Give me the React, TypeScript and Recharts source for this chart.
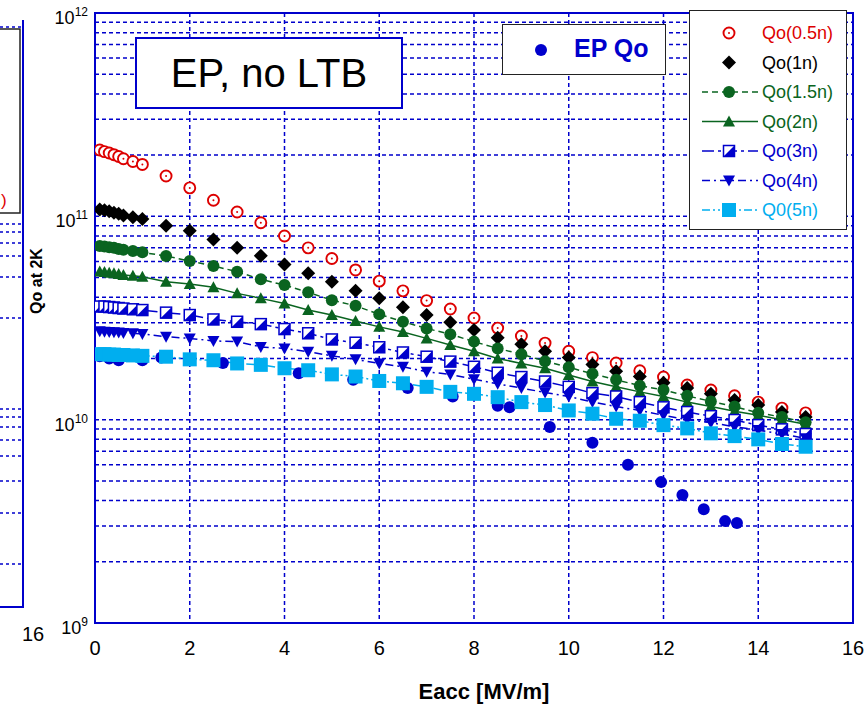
import React from 'react';
import {
  ComposedChart,
  Line,
  XAxis,
  YAxis,
  CartesianGrid,
  ReferenceArea,
} from 'recharts';

// Eacc [MV/m] shared by the seven Qo(n) curves
const EACC = [
  0.1, 0.2, 0.3, 0.4, 0.5, 0.6, 0.8, 1.0,
  1.5, 2, 2.5, 3, 3.5, 4, 4.5, 5, 5.5, 6, 6.5, 7, 7.5, 8, 8.5, 9, 9.5, 10,
  10.5, 11, 11.5, 12, 12.5, 13, 13.5, 14, 14.5, 15,
];

const QO_05N = [
  2.12e11, 2.08e11, 2.05e11, 2.01e11, 1.97e11, 1.92e11, 1.86e11, 1.8e11,
  1.58e11, 1.38e11, 1.2e11, 1.05e11, 9.3e10, 8.0e10, 7.0e10, 6.2e10, 5.45e10, 4.8e10,
  4.3e10, 3.85e10, 3.5e10, 3.16e10, 2.82e10, 2.58e10, 2.38e10, 2.17e10, 2.02e10, 1.9e10,
  1.74e10, 1.62e10, 1.48e10, 1.4e10, 1.31e10, 1.22e10, 1.14e10, 1.08e10,
];
const QO_1N = [
  1.08e11, 1.07e11, 1.06e11, 1.04e11, 1.03e11, 1.01e11, 9.9e10, 9.7e10,
  9.0e10, 8.5e10, 7.7e10, 7.0e10, 6.4e10, 5.8e10, 5.25e10, 4.77e10, 4.3e10, 3.95e10,
  3.57e10, 3.27e10, 3.01e10, 2.76e10, 2.53e10, 2.35e10, 2.17e10, 2.02e10, 1.87e10, 1.73e10,
  1.63e10, 1.52e10, 1.43e10, 1.34e10, 1.25e10, 1.18e10, 1.09e10, 1.03e10,
];
const QO_15N = [
  7.15e10, 7.1e10, 7.05e10, 7.0e10, 6.9e10, 6.85e10, 6.75e10, 6.65e10,
  6.38e10, 6.03e10, 5.7e10, 5.34e10, 4.9e10, 4.59e10, 4.23e10, 3.87e10, 3.63e10, 3.3e10,
  3.03e10, 2.81e10, 2.63e10, 2.42e10, 2.24e10, 2.1e10, 1.94e10, 1.81e10, 1.68e10, 1.57e10,
  1.47e10, 1.4e10, 1.31e10, 1.23e10, 1.16e10, 1.08e10, 1.03e10, 9.7e9,
];
const QO_2N = [
  5.35e10, 5.32e10, 5.28e10, 5.25e10, 5.2e10, 5.15e10, 5.1e10, 5.04e10,
  4.77e10, 4.65e10, 4.48e10, 4.18e10, 3.95e10, 3.73e10, 3.46e10, 3.27e10, 3.06e10, 2.86e10,
  2.7e10, 2.51e10, 2.33e10, 2.17e10, 2.0e10, 1.89e10, 1.79e10, 1.66e10, 1.54e10, 1.45e10,
  1.37e10, 1.3e10, 1.22e10, 1.16e10, 1.1e10, 1.05e10, 1.0e10, 9.5e9,
];
const QO_3N = [
  3.6e10, 3.6e10, 3.58e10, 3.56e10, 3.54e10, 3.52e10, 3.49e10, 3.46e10,
  3.36e10, 3.27e10, 3.11e10, 3.03e10, 2.95e10, 2.79e10, 2.66e10, 2.48e10, 2.39e10, 2.27e10,
  2.14e10, 2.04e10, 1.93e10, 1.82e10, 1.7e10, 1.62e10, 1.54e10, 1.45e10, 1.35e10, 1.3e10,
  1.22e10, 1.15e10, 1.09e10, 1.04e10, 9.96e9, 9.4e9, 8.96e9, 8.5e9,
];
const QO_4N = [
  2.72e10, 2.71e10, 2.7e10, 2.69e10, 2.68e10, 2.67e10, 2.66e10, 2.64e10,
  2.56e10, 2.51e10, 2.44e10, 2.42e10, 2.28e10, 2.24e10, 2.16e10, 2.06e10, 1.98e10, 1.89e10,
  1.82e10, 1.72e10, 1.67e10, 1.58e10, 1.5e10, 1.43e10, 1.36e10, 1.3e10, 1.22e10, 1.16e10,
  1.11e10, 1.05e10, 1.0e10, 9.66e9, 9.23e9, 8.89e9, 8.5e9, 8.1e9,
];
const QO_5N = [
  2.1e10, 2.1e10, 2.09e10, 2.09e10, 2.08e10, 2.08e10, 2.07e10, 2.06e10,
  2.04e10, 1.98e10, 1.96e10, 1.89e10, 1.86e10, 1.79e10, 1.75e10, 1.67e10, 1.63e10, 1.55e10,
  1.51e10, 1.45e10, 1.37e10, 1.34e10, 1.29e10, 1.22e10, 1.18e10, 1.11e10, 1.07e10, 1.01e10,
  9.88e9, 9.4e9, 9.06e9, 8.57e9, 8.3e9, 8.0e9, 7.59e9, 7.36e9,
];

// measured EP Qo (blue dots)
const EP_EACC = [
  0.1, 0.3, 0.5, 1.0, 1.4, 2.7, 4.3, 5.45, 6.6, 7.55,
  8.5, 8.75, 9.6, 10.5, 11.25, 11.95, 12.4, 12.85, 13.3, 13.55,
];
const EP_QO = [
  2.05e10, 2.0e10, 1.96e10, 1.96e10, 2.02e10, 1.9e10, 1.69e10, 1.57e10, 1.43e10, 1.3e10,
  1.17e10, 1.15e10, 9.2e9, 7.7e9, 6.0e9, 4.93e9, 4.26e9, 3.63e9, 3.17e9, 3.1e9,
];

const X_TICKS = [0, 2, 4, 6, 8, 10, 12, 14, 16];
const DECADES = [9, 10, 11];
const MANTISSAS = [1, 2, 3, 4, 5, 6, 7, 8, 9];

const Y_TICKS = [
  ...DECADES.flatMap((d) => MANTISSAS.map((m) => m * Math.pow(10, d))),
  1e12,
];

const BLUE = '#0000cc';
const GREEN = '#0a6420';
const FONT = '"Liberation Sans", Arial, sans-serif';

type Shape = 'sun' | 'diamond' | 'dot' | 'tri' | 'halfsq' | 'down' | 'square';

interface SeriesDef {
  name: string;
  values: number[];
  color: string;
  shape: Shape;
  line: boolean;
  dash?: string;
}

const SERIES: SeriesDef[] = [
  { name: 'Qo(0.5n)', values: QO_05N, color: '#dd0000', shape: 'sun', line: false },
  { name: 'Qo(1n)', values: QO_1N, color: '#000000', shape: 'diamond', line: false },
  { name: 'Qo(1.5n)', values: QO_15N, color: GREEN, shape: 'dot', line: true, dash: '6 4' },
  { name: 'Qo(2n)', values: QO_2N, color: GREEN, shape: 'tri', line: true },
  { name: 'Qo(3n)', values: QO_3N, color: BLUE, shape: 'halfsq', line: true, dash: '12 4 3 4' },
  { name: 'Qo(4n)', values: QO_4N, color: BLUE, shape: 'down', line: true, dash: '8 4 2 4' },
  { name: 'Q0(5n)', values: QO_5N, color: '#00aeef', shape: 'square', line: true, dash: '8 3 2 3 2 3' },
];

function Marker({ shape, color, cx, cy }: { shape: Shape; color: string; cx: number; cy: number }) {
  if (cx == null || cy == null) return null;
  switch (shape) {
    case 'sun':
      return (
        <g>
          <circle cx={cx} cy={cy} r={5.5} fill="#fff" stroke={color} strokeWidth={1.9} />
          <circle cx={cx} cy={cy} r={1} fill={color} />
        </g>
      );
    case 'diamond':
      return <polygon points={`${cx},${cy - 7} ${cx + 7},${cy} ${cx},${cy + 7} ${cx - 7},${cy}`} fill={color} />;
    case 'dot':
      return <circle cx={cx} cy={cy} r={6} fill={color} />;
    case 'tri':
      return <polygon points={`${cx},${cy - 6} ${cx + 6},${cy + 5} ${cx - 6},${cy + 5}`} fill={color} />;
    case 'down':
      return <polygon points={`${cx - 6},${cy - 5} ${cx + 6},${cy - 5} ${cx},${cy + 6}`} fill={color} />;
    case 'halfsq':
      return (
        <g>
          <rect x={cx - 5.5} y={cy - 5.5} width={11} height={11} fill="#fff" stroke={color} strokeWidth={1.5} />
          <polygon points={`${cx + 5.5},${cy - 5.5} ${cx + 5.5},${cy + 5.5} ${cx - 5.5},${cy + 5.5}`} fill={color} />
        </g>
      );
    case 'square':
      return <rect x={cx - 7} y={cy - 7} width={14} height={14} fill={color} />;
    default:
      return null;
  }
}

function YTick(props: any) {
  const { x, y, payload } = props;
  const exp = Math.log10(payload.value);
  if (Math.abs(exp - Math.round(exp)) > 1e-9) return null;
  return (
    <text x={x + 1} y={y + 11} textAnchor="end" fontFamily={FONT} fontSize={18} fill="#000">
      <tspan>10</tspan>
      <tspan dy={-8} fontSize={12}>{Math.round(exp)}</tspan>
    </text>
  );
}

const LEFT_PANEL_GRID = [27, 224, 232, 243, 256, 277, 318, 409, 417, 427, 440, 456, 481, 513, 564];

function Legend() {
  const rowY = (i: number) => 22 + i * 29.5;
  return (
    <svg
      width={158}
      height={220}
      style={{ position: 'absolute', left: 689, top: 10, background: '#fff', border: '1.5px solid #222', boxSizing: 'border-box' }}
    >
      {SERIES.map((s, i) => (
        <g key={s.name}>
          {s.line && (
            <line x1={12} x2={68} y1={rowY(i)} y2={rowY(i)} stroke={s.color} strokeWidth={1.5} strokeDasharray={s.dash} />
          )}
          <Marker shape={s.shape} color={s.color} cx={39} cy={rowY(i)} />
          <text x={72} y={rowY(i) + 6} fontFamily={FONT} fontSize={18} fill={s.color}>
            {s.name}
          </text>
        </g>
      ))}
    </svg>
  );
}

export default function App() {
  const epData = EP_EACC.map((x, i) => ({ x, y: EP_QO[i] }));

  return (
    <div style={{ position: 'absolute', left: 0, top: 0, width: 864, height: 705, background: '#fff', overflow: 'hidden' }}>
      {/* edge of the neighbouring panel */}
      <svg width={30} height={650} style={{ position: 'absolute', left: 0, top: 0 }}>
        {LEFT_PANEL_GRID.map((y) => (
          <line key={y} x1={0} x2={22} y1={y} y2={y} stroke={BLUE} strokeWidth={1.5} strokeDasharray="3 3" />
        ))}
        <rect x={-2} y={29} width={22} height={184} fill="#fff" stroke="#222" strokeWidth={1.5} />
        <text x={1} y={206} fontFamily={FONT} fontSize={17} fill="#dd0000">)</text>
        <line x1={23} x2={23} y1={20} y2={607} stroke={BLUE} strokeWidth={2} />
        <line x1={0} x2={24} y1={607} y2={607} stroke={BLUE} strokeWidth={2} />
      </svg>
      <div style={{ position: 'absolute', left: 22, top: 623, fontFamily: FONT, fontSize: 20 }}>16</div>

      <div style={{ position: 'absolute', left: 0, top: 0 }}>
        <ComposedChart width={864} height={705} margin={{ top: 13, right: 11, bottom: 0, left: 0 }}>
          <CartesianGrid stroke={BLUE} strokeWidth={1.5} strokeDasharray="4 3" />
          <XAxis
            type="number"
            dataKey="x"
            domain={[0, 16]}
            ticks={X_TICKS}
            height={82}
            tickLine={false}
            axisLine={false}
            tickMargin={12}
            tick={{ fontSize: 20, fill: '#000', fontFamily: FONT }}
            allowDataOverflow
          />
          <YAxis
            type="number"
            scale="log"
            domain={[1e9, 1e12]}
            ticks={Y_TICKS}
            width={95}
            tickLine={false}
            axisLine={false}
            interval={0}
            tick={<YTick />}
            allowDataOverflow
          />
          <ReferenceArea x1={0} x2={16} y1={1e9} y2={1e12} fill="none" stroke={BLUE} strokeWidth={2} ifOverflow="visible" />
          <Line
            data={epData}
            dataKey="y"
            name="EP Qo"
            stroke="none"
            isAnimationActive={false}
            activeDot={false}
            dot={(p: any) => <Marker key={`ep-${p.index}`} shape="dot" color={BLUE} cx={p.cx} cy={p.cy} />}
          />
          {SERIES.map((s) => (
            <Line
              key={s.name}
              data={EACC.map((x, i) => ({ x, y: s.values[i] }))}
              dataKey="y"
              name={s.name}
              stroke={s.line ? s.color : 'none'}
              strokeWidth={1.5}
              strokeDasharray={s.dash}
              isAnimationActive={false}
              activeDot={false}
              dot={(p: any) => <Marker key={`${s.name}-${p.index}`} shape={s.shape} color={s.color} cx={p.cx} cy={p.cy} />}
            />
          ))}
        </ComposedChart>
      </div>

      {/* annotation boxes */}
      <div
        style={{
          position: 'absolute', left: 135, top: 37, width: 268, height: 72, boxSizing: 'border-box',
          border: `2px solid ${BLUE}`, background: '#fff', display: 'flex', alignItems: 'center',
          justifyContent: 'center', fontFamily: FONT, fontSize: 40, color: '#000',
        }}
      >
        EP, no LTB
      </div>
      <div
        style={{
          position: 'absolute', left: 502, top: 24, width: 164, height: 51, boxSizing: 'border-box',
          border: '1.5px solid #222', background: '#fff',
        }}
      >
        <svg width={20} height={20} style={{ position: 'absolute', left: 28, top: 15 }}>
          <Marker shape="dot" color={BLUE} cx={10} cy={10} />
        </svg>
        <div style={{ position: 'absolute', left: 71, top: 9, fontFamily: FONT, fontSize: 25, fontWeight: 'bold', color: BLUE }}>
          EP Qo
        </div>
      </div>
      <Legend />

      <div
        style={{
          position: 'absolute', left: 37, top: 281, transform: 'translate(-50%, -50%) rotate(-90deg)',
          fontFamily: FONT, fontSize: 16, fontWeight: 'bold', whiteSpace: 'nowrap',
        }}
      >
        Qo at 2K
      </div>
      <div
        style={{
          position: 'absolute', left: 484, top: 692, transform: 'translate(-50%, -50%)',
          fontFamily: FONT, fontSize: 22, fontWeight: 'bold', whiteSpace: 'nowrap',
        }}
      >
        Eacc [MV/m]
      </div>
    </div>
  );
}
